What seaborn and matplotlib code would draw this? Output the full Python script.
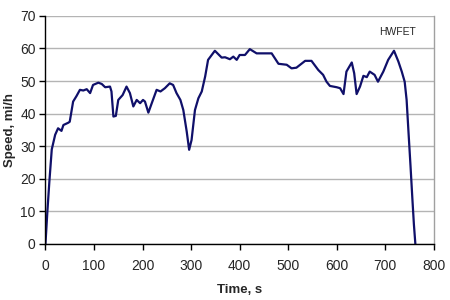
import matplotlib
matplotlib.use("Agg")
import matplotlib.pyplot as plt
import seaborn as sns
import pandas as pd

time_s = [0, 4, 8, 13, 20, 26, 33, 37, 47, 50, 57, 64, 71, 78, 85, 92, 98, 109, 116, 123,
          133, 136, 140, 145, 150, 159, 167, 174, 181, 188, 195, 201, 205, 212, 219, 229,
          237, 246, 256, 263, 270, 278, 284, 291, 296, 301, 308, 315, 322, 329, 335, 349,
          363, 370, 380, 387, 394, 400, 411, 421, 435, 466, 480, 497, 507, 517, 535, 548,
          562, 572, 579, 586, 600, 607, 614, 620, 631, 636, 641, 648, 655, 662, 668, 678,
          685, 696, 706, 718, 727, 734, 740, 744, 748, 752, 756, 759, 762]
speed_mph = [0, 10, 19, 29, 33.5, 35.5, 34.7, 36.5, 37.2, 37.5, 43.7, 45.4, 47.3, 47.1, 47.5,
             46.3, 48.8, 49.5, 49.1, 48.1, 48.3, 46.8, 39.1, 39.3, 44.2, 45.7, 48.3, 46.3,
             42.2, 44.2, 43.2, 44.2, 43.7, 40.3, 43.2, 47.3, 46.8, 47.8, 49.3, 48.8, 46.3,
             44.2, 41.1, 34.5, 28.9, 31.9, 41.1, 44.7, 46.8, 51.4, 56.5, 59.3, 57.2, 57.3,
             56.7, 57.5, 56.5, 58, 58, 59.8, 58.5, 58.5, 55.3, 55, 53.9, 54.1, 56.2, 56.2,
             53.4, 51.9, 49.8, 48.5, 48.1, 47.8, 46, 52.9, 55.7, 52.4, 46, 48.3, 51.6, 51.2,
             52.9, 51.9, 49.8, 52.9, 56.5, 59.3, 56, 52.9, 49.8, 44.2, 34, 24, 13.5, 6, 0]

x_ticks = [0, 100, 200, 300, 400, 500, 600, 700, 800]
y_ticks = [0, 10, 20, 30, 40, 50, 60, 70]
title_text = "HWFET"
x_label = "Time, s"
y_label = "Speed, mi/h"

df = pd.DataFrame({"t": time_s, "v": speed_mph})

sns.set_style("white")
plt.rcParams["font.family"] = ["Liberation Sans", "DejaVu Sans"]

fig = plt.figure(figsize=(4.5, 3.0), dpi=100)
ax = fig.add_axes([0.101, 0.187, 0.863, 0.760])

sns.lineplot(data=df, x="t", y="v", ax=ax, color="#10106a", linewidth=1.6, sort=False)

ax.set_xlim(0, 800)
ax.set_ylim(0, 70)
ax.set_xticks(x_ticks)
ax.set_yticks(y_ticks)
ax.yaxis.grid(True, color="#b4b4b4", linewidth=1.0)
ax.xaxis.grid(False)
ax.set_axisbelow(True)

for side in ["left", "bottom"]:
    ax.spines[side].set_color("black")
    ax.spines[side].set_linewidth(1.0)
ax.spines["right"].set_color("#a0a0a0")
ax.spines["right"].set_linewidth(1.0)
ax.spines["top"].set_visible(False)

ax.tick_params(axis="both", direction="out", length=4, width=1, color="black",
               labelsize=10, left=True, bottom=True)
ax.tick_params(axis="x", pad=7)
ax.tick_params(axis="y", pad=3)

ax.set_xlabel(x_label, fontsize=9.5, fontweight="bold", labelpad=8)
ax.set_ylabel(y_label, fontsize=9.5, fontweight="bold", labelpad=3)

ax.text(726, 65, title_text, fontsize=7.5, ha="center", va="center")

fig.savefig("out.png", dpi=100)
